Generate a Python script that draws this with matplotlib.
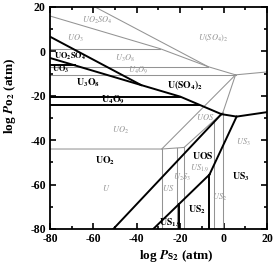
import matplotlib
matplotlib.use("Agg")
import matplotlib.pyplot as plt
from matplotlib.ticker import MultipleLocator

plt.rcParams["font.family"] = ["Liberation Serif", "DejaVu Serif"]
plt.rcParams["mathtext.fontset"] = "stix"
plt.rcParams["axes.unicode_minus"] = False

GRAY = "#939393"

# phase boundaries, (log Ps2, log Po2) vertices
# thick black boundaries
blk_uo2so4_top_x = [-80, -38]
blk_uo2so4_top_y = [6.6, -15.2]
blk_sulfate_low_x = [-80, -38, -20, -1]
blk_sulfate_low_y = [-3, -15.2, -20.4, -28.3]
blk_uo3_x = [-80, -68.6]
blk_uo3_y = [-6.3, -6.3]
blk_u3o8_x = [-80, -20]
blk_u3o8_y = [-20.4, -20.4]
blk_u4o9_x = [-80, -11.2]
blk_u4o9_y = [-24.1, -24.1]
blk_right_x = [-1, 6, 20]
blk_right_y = [-28.3, -29.4, -27.4]
blk_uo2_uos_x = [-1, -50.8]
blk_uo2_uos_y = [-28.3, -80]
blk_uos_us3_x = [6, -6.5]
blk_uos_us3_y = [-29.4, -55.5]
blk_uos_us_x = [-6.5, -32.4]
blk_uos_us_y = [-55.5, -80]
blk_v1_x = [-20.4, -20.4]
blk_v1_y = [-68.6, -80]
blk_v2_x = [-6.5, -6.5]
blk_v2_y = [-55.5, -80]

# thin gray boundaries
gry_a_x = [-59.3, -7.2]
gry_a_y = [20, -6.9]
gry_b_x = [-80, -29.3, -7.2]
gry_b_y = [15.9, 1.2, -6.9]
gry_h0_x = [-80, -29.3]
gry_h0_y = [1.2, 1.2]
gry_h1_x = [-80, -7.2]
gry_h1_y = [-6.9, -6.9]
gry_c_x = [-7.2, 5.5, 20]
gry_c_y = [-6.9, -10.6, -9.3]
gry_h2_x = [-80, 5.5]
gry_h2_y = [-10.6, -10.6]
gry_l1_x = [5.5, -28.5]
gry_l1_y = [-10.6, -44]
gry_h3_x = [-80, -28.5, -18.2]
gry_h3_y = [-44, -44, -43.3]
gry_steep_x = [5.5, -0.3]
gry_steep_y = [-10.6, -27.5]
gry_l2_x = [-0.3, -18.2]
gry_l2_y = [-27.5, -43.3]
gry_vert_x = [-28.5, -21.6, -18.2, -4.3, -0.3]
gry_vert_top = [-44, -43.5, -43.3, -31.0, -27.5]

# labels
blk_labels = [r"$\mathbf{UO_2SO_4}$", r"$\mathbf{UO_3}$", r"$\mathbf{U_3O_8}$",
              r"$\mathbf{U_4O_9}$", r"$\mathbf{UO_2}$", r"$\mathbf{U(SO_4)_2}$",
              r"$\mathbf{UOS}$", r"$\mathbf{US_3}$", r"$\mathbf{US_2}$",
              r"$\mathbf{US_{1.9}}$"]
blk_label_x = [-70.8, -75, -62.5, -51, -54.7, -17.8, -9.5, 7.9, -12.4, -24.7]
blk_label_y = [-2.2, -8.2, -14.2, -21.9, -49.4, -15.1, -46.7, -56.7, -71.4, -77]

gry_labels = [r"$UO_2SO_4$", r"$UO_3$", r"$U_3O_8$", r"$U_4O_9$", r"$U(SO_4)_2$",
              r"$UO_2$", r"$U$", r"$UOS$", r"$US_3$", r"$US_{1.9}$",
              r"$U_2S_3$", r"$US$", r"$US_2$"]
gry_label_x = [-58, -68.5, -45.4, -39.3, -5, -47.7, -53.9, -8.6, 8.9, -11.2,
               -19.3, -25.5, -1.7]
gry_label_y = [14, 5.9, -3.1, -8.4, 6, -35.4, -61.7, -29.4, -40.8, -52.7,
               -56.7, -61.4, -65.6]

fig = plt.figure(figsize=(2.73, 2.65), dpi=100)
ax = fig.add_axes([0.183, 0.136, 0.795, 0.838])

# gray set first so the black lines sit on top
for xs, ys in [(gry_a_x, gry_a_y), (gry_b_x, gry_b_y), (gry_h0_x, gry_h0_y),
               (gry_h1_x, gry_h1_y), (gry_c_x, gry_c_y), (gry_h2_x, gry_h2_y),
               (gry_l1_x, gry_l1_y), (gry_h3_x, gry_h3_y),
               (gry_steep_x, gry_steep_y), (gry_l2_x, gry_l2_y)]:
    ax.plot(xs, ys, color=GRAY, lw=0.75)
for vx, vt in zip(gry_vert_x, gry_vert_top):
    ax.plot([vx, vx], [vt, -80], color=GRAY, lw=0.75)

for xs, ys in [(blk_uo2so4_top_x, blk_uo2so4_top_y), (blk_sulfate_low_x, blk_sulfate_low_y),
               (blk_uo3_x, blk_uo3_y), (blk_u3o8_x, blk_u3o8_y),
               (blk_u4o9_x, blk_u4o9_y), (blk_right_x, blk_right_y),
               (blk_uo2_uos_x, blk_uo2_uos_y), (blk_uos_us3_x, blk_uos_us3_y),
               (blk_uos_us_x, blk_uos_us_y), (blk_v1_x, blk_v1_y),
               (blk_v2_x, blk_v2_y)]:
    ax.plot(xs, ys, color="black", lw=1.4)

for s, x, y in zip(gry_labels, gry_label_x, gry_label_y):
    ax.text(x, y, s, color=GRAY, fontsize=6, ha="center", va="center")
for i, (s, x, y) in enumerate(zip(blk_labels, blk_label_x, blk_label_y)):
    ax.text(x, y, s, color="black", fontsize=6 if i < 2 else 7,
            ha="center", va="center")

ax.set_xlim(-80, 20)
ax.set_ylim(-80, 20)
ax.xaxis.set_major_locator(MultipleLocator(20))
ax.yaxis.set_major_locator(MultipleLocator(20))
ax.xaxis.set_minor_locator(MultipleLocator(10))
ax.yaxis.set_minor_locator(MultipleLocator(10))
ax.tick_params(which="both", direction="in", top=True, right=True, width=1.2)
ax.tick_params(which="major", length=4, labelsize=8.5, pad=3)
ax.tick_params(which="minor", length=2.5)
for lab in ax.get_xticklabels() + ax.get_yticklabels():
    lab.set_fontweight("bold")
for sp in ax.spines.values():
    sp.set_linewidth(1.3)

ax.set_xlabel(r"log $\mathbfit{P}$s$_\mathbf{2}$ (atm)", fontsize=9.5, fontweight="bold")
ax.set_ylabel(r"log $\mathbfit{P}$o$_\mathbf{2}$ (atm)", fontsize=9.5, fontweight="bold")
ax.xaxis.set_label_coords(0.58, -0.085)
ax.yaxis.set_label_coords(-0.145, 0.6)

fig.savefig("out.png", dpi=100)
